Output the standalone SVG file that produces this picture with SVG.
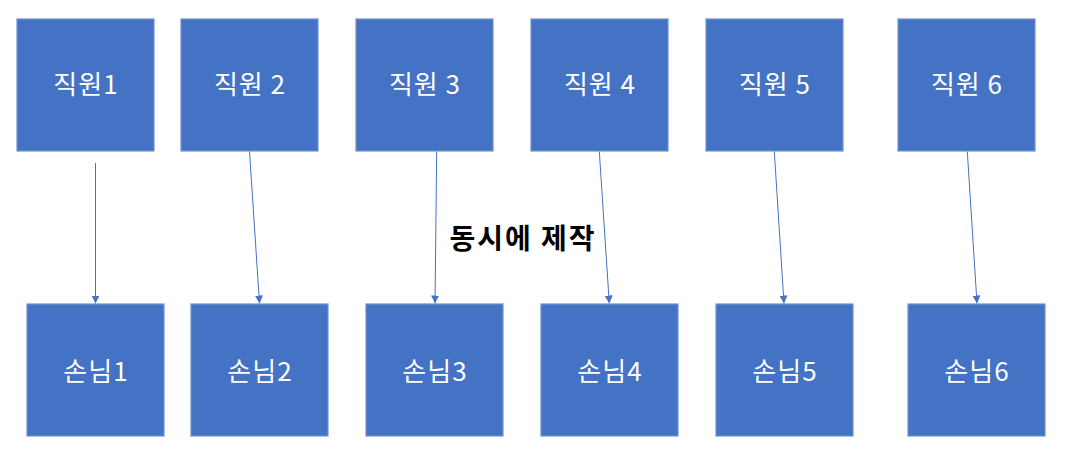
<svg xmlns="http://www.w3.org/2000/svg" width="1070" height="461" viewBox="0 0 1070 461">
<style>
.box{fill:#4472C4;stroke:#7391CB;stroke-width:1.2}
.lbl{fill:#FFFFFF;font-family:"Noto Sans CJK KR","Noto Sans",sans-serif;font-size:26px;letter-spacing:1px;text-anchor:middle}
.conn{stroke:#4472C4;stroke-width:1;fill:none;marker-end:url(#ah)}
.note{fill:#000000;font-family:"Noto Sans CJK KR","Noto Sans",sans-serif;font-size:28px;letter-spacing:2px;font-weight:bold;text-anchor:middle}
</style>
<defs>
<marker id="ah" markerWidth="8" markerHeight="8" refX="8" refY="4" orient="auto" markerUnits="userSpaceOnUse">
<path d="M0,0 L8,4 L0,8 Z" fill="#4472C4"/>
</marker>
</defs>
<rect x="0" y="0" width="1070" height="461" fill="#FFFFFF"/>
<g id="connectors">
<line class="conn" x1="95.5" y1="163" x2="95.5" y2="303.5"/>
<line class="conn" x1="249.5" y1="151.5" x2="259.5" y2="303.5"/>
<line class="conn" x1="436.7" y1="151.5" x2="435" y2="303.5"/>
<line class="conn" x1="599.3" y1="151.5" x2="609.3" y2="303.5"/>
<line class="conn" x1="774.3" y1="151.5" x2="784" y2="303.5"/>
<line class="conn" x1="967.3" y1="151.5" x2="977" y2="303.5"/>
</g>
<g id="emp1"><rect class="box" x="17" y="19" width="137" height="132"/><text class="lbl" x="86" y="94">직원1</text></g>
<g id="emp2"><rect class="box" x="181" y="19" width="137" height="132"/><text class="lbl" x="250" y="94">직원 2</text></g>
<g id="emp3"><rect class="box" x="356" y="19" width="137" height="132"/><text class="lbl" x="425" y="94">직원 3</text></g>
<g id="emp4"><rect class="box" x="531" y="19" width="137" height="132"/><text class="lbl" x="600" y="94">직원 4</text></g>
<g id="emp5"><rect class="box" x="706" y="19" width="137" height="132"/><text class="lbl" x="775" y="94">직원 5</text></g>
<g id="emp6"><rect class="box" x="898" y="19" width="137" height="132"/><text class="lbl" x="967" y="94">직원 6</text></g>
<g id="cust1"><rect class="box" x="27" y="304" width="137" height="132"/><text class="lbl" x="96" y="381">손님1</text></g>
<g id="cust2"><rect class="box" x="191" y="304" width="137" height="132"/><text class="lbl" x="260" y="381">손님2</text></g>
<g id="cust3"><rect class="box" x="366" y="304" width="137" height="132"/><text class="lbl" x="435" y="381">손님3</text></g>
<g id="cust4"><rect class="box" x="541" y="304" width="137" height="132"/><text class="lbl" x="610" y="381">손님4</text></g>
<g id="cust5"><rect class="box" x="716" y="304" width="137" height="132"/><text class="lbl" x="785" y="381">손님5</text></g>
<g id="cust6"><rect class="box" x="908" y="304" width="137" height="132"/><text class="lbl" x="977" y="381">손님6</text></g>
<g id="note"><text class="note" x="523" y="249">동시에 제작</text></g>
</svg>
